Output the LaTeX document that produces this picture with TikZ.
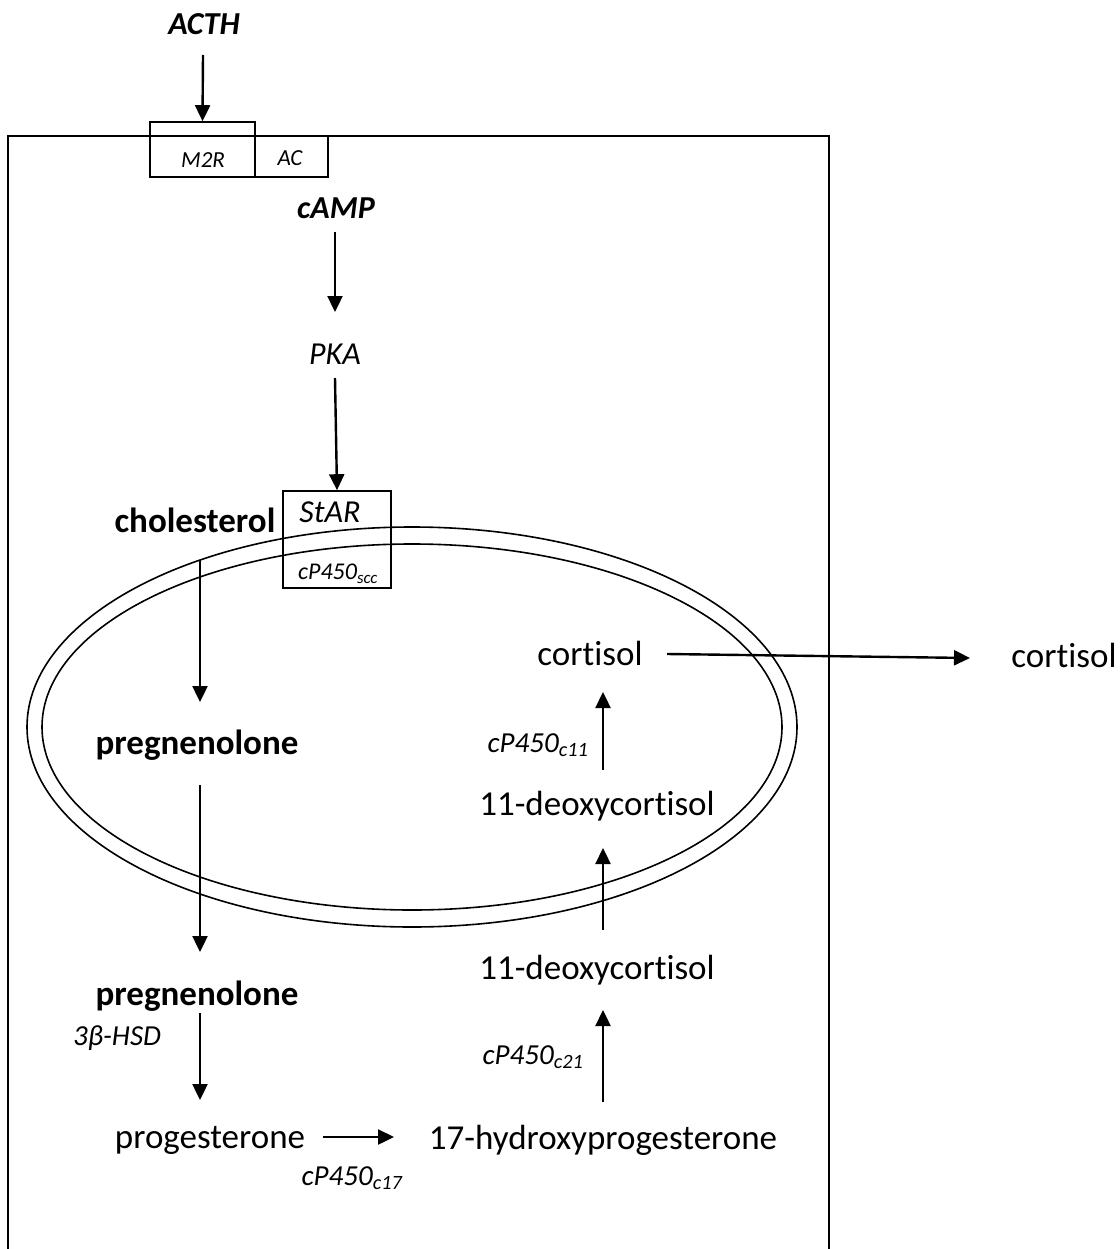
\documentclass[tikz,border=0pt]{standalone}
\usepackage{fontspec}
\setmainfont{Carlito}[Ligatures=NoCommon]
\usetikzlibrary{arrows.meta,calc}
\begin{document}
\begin{tikzpicture}[x=1pt,y=-1pt,
  txt/.style={inner sep=0pt,font=\fontsize{35}{40}\selectfont},
  btxt/.style={inner sep=0pt,font=\fontsize{35}{40}\selectfont\bfseries},
  bitxt/.style={inner sep=0pt,font=\fontsize{32}{36}\selectfont\bfseries\itshape},
  itxt/.style={inner sep=0pt,font=\fontsize{32}{36}\selectfont\itshape},
  enz/.style={inner sep=0pt,font=\fontsize{29}{32}\selectfont\itshape},
  senz/.style={inner sep=0pt,font=\fontsize{23}{26}\selectfont\itshape},
  arr/.style={line width=2.4pt,-{Triangle[length=16pt,width=15pt]}},
  thin/.style={line width=1.6pt}]
\useasboundingbox (0,0) rectangle (1119,1249);
\begin{scope}
\clip (0,0) rectangle (1119,1249);
% cell outline (open at the bottom)
\draw[thin] (8,1260) -- (8,136) -- (829,136) -- (829,1260);
\end{scope}
% membrane receptor boxes
\node[draw,thin,minimum width=105pt,minimum height=55pt,inner sep=0pt] (m2rbox) at (202.5,149.5) {};
\node[draw,thin,minimum width=73pt,minimum height=41pt,inner sep=0pt] (acbox) at (291.5,156.5) {};
\node[senz] (m2r) at (203,160) {M2R};
\node[senz] (ac) at (290,158) {AC};
% mitochondrion
\draw[thin] (412,727) ellipse [x radius=385, y radius=200];
\draw[thin] (412,727) ellipse [x radius=370, y radius=183];
% StAR box
\node[draw,thin,minimum width=108pt,minimum height=97pt,inner sep=0pt] (starbox) at (337,539.5) {};
\node[itxt] (star) at (330,512) {StAR};
\node[senz,font=\fontsize{24}{26}\selectfont\itshape] (scc) at (338,574) {cP450\textsubscript{scc}};
% texts
\node[bitxt] (acth) at (204,24) {ACTH};
\node[bitxt] (camp) at (336,208) {cAMP};
\node[itxt] (pka) at (335,354) {PKA};
\node[btxt] (chol) at (195,520) {cholesterol};
\node[btxt] (preg1) at (197,745) {pregnenolone};
\node[btxt] (preg2) at (197,996) {pregnenolone};
\node[enz] (hsd) at (117,1038) {3β-HSD};
\node[txt] (prog) at (210,1140) {progesterone};
\node[enz] (c17) at (352,1178) {cP450\textsubscript{c17}};
\node[txt] (ohp) at (603,1140) {17-hydroxyprogesterone};
\node[enz] (c21) at (533,1057) {cP450\textsubscript{c21}};
\node[txt] (doc2) at (597,970) {11-deoxycortisol};
\node[txt] (doc1) at (597,806) {11-deoxycortisol};
\node[enz] (c11) at (538,745) {cP450\textsubscript{c11}};
\node[txt] (cort) at (590,653) {cortisol};
\node[txt] (cortout) at (1064,655) {cortisol};
% arrows
\draw[arr] ($(acth)+(-1,31)$) -- (m2rbox.north);
\draw[arr] ($(camp)+(-1,24)$) -- ($(pka)+(0,-42)$);
\draw[arr] ($(pka)+(0,24)$) -- ($(starbox.north)+(0,0)$);
\draw[arr] ($(chol)+(5,40)$) -- ($(preg1)+(3,-43)$);
\draw[arr] ($(preg1)+(3,40)$) -- ($(preg2)+(3,-44)$);
\draw[arr] ($(preg2)+(3,17)$) -- ($(prog)+(-10,-40)$);
\draw[arr] ($(prog)+(113,-3)$) -- ($(ohp)+(-209,-3)$);
\draw[arr] ($(ohp)+(0,-38)$) -- ($(doc2)+(6,40)$);
\draw[arr] ($(doc2)+(6,-40)$) -- ($(doc1)+(6,42)$);
\draw[arr] ($(doc1)+(6,-36)$) -- ($(cort)+(13,39)$);
\draw[arr] ($(cort)+(77,1)$) -- ($(cortout)+(-94,3)$);
\end{tikzpicture}
\end{document}
